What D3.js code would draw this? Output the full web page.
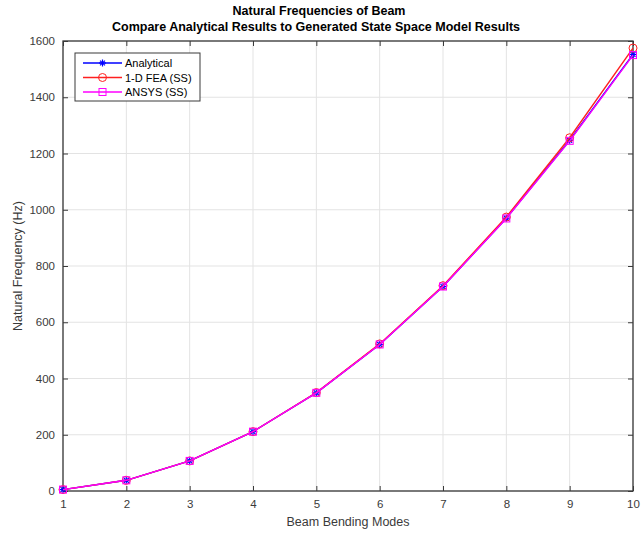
<!DOCTYPE html>
<html lang="en">
<head>
  <meta charset="utf-8">
  <title>Natural Frequencies of Beam</title>
  <script src="https://d3js.org/d3.v7.min.js"></script>
  <style>
    body { margin: 0; background: #fff; }
    text { font-family: "Liberation Sans", Arial, Helvetica, sans-serif; }
  </style>
</head>
<body>
<svg id="chart" width="641" height="533"></svg>
<script>
  // data
  var modes = [1, 2, 3, 4, 5, 6, 7, 8, 9, 10];
  var analytical = [5, 38, 107, 211, 349, 521, 727, 970, 1247, 1552];
  var feaSS = [5, 38, 107, 211, 350, 523, 730, 974, 1256, 1575];
  var ansysSS = [5, 38, 107, 211, 349, 521, 727, 969, 1245, 1550];
  var yTicks = [0, 200, 400, 600, 800, 1000, 1200, 1400, 1600];
  var seriesNames = ["Analytical", "1-D FEA (SS)", "ANSYS (SS)"];

  var svg = d3.select("#chart"),
      pL = 63, pR = 633, pT = 41, pB = 491,
      axisCol = "#3a3a3a";

  var x = d3.scaleLinear().domain([1, 10]).range([pL, pR]),
      y = d3.scaleLinear().domain([0, 1600]).range([pB, pT]);

  // grid
  var grid = svg.append("g");
  grid.selectAll(".gx").data(modes).enter().append("line")
      .attr("x1", d => x(d)).attr("x2", d => x(d))
      .attr("y1", pT).attr("y2", pB)
      .attr("stroke", "#e3e3e3").attr("stroke-width", 1);
  grid.selectAll(".gy").data(yTicks).enter().append("line")
      .attr("x1", pL).attr("x2", pR)
      .attr("y1", d => y(d)).attr("y2", d => y(d))
      .attr("stroke", "#e3e3e3").attr("stroke-width", 1);

  // axes, ticks inward on all four sides
  function styleAxis(g) {
    g.select(".domain").remove();
    g.selectAll("line").attr("stroke", axisCol);
    g.selectAll("text").attr("fill", axisCol).style("font-size", "11.5px");
  }
  svg.append("g").attr("transform", "translate(0," + pB + ")")
     .call(d3.axisBottom(x).tickValues(modes).tickSize(-5).tickPadding(9).tickFormat(d3.format("d")))
     .call(styleAxis);
  svg.append("g").attr("transform", "translate(" + pL + ",0)")
     .call(d3.axisLeft(y).tickValues(yTicks).tickSize(-5).tickPadding(8).tickFormat(d3.format("d")))
     .call(styleAxis);
  svg.append("g").attr("transform", "translate(0," + pT + ")")
     .call(d3.axisTop(x).tickValues(modes).tickSize(-5).tickFormat(""))
     .call(styleAxis);
  svg.append("g").attr("transform", "translate(" + pR + ",0)")
     .call(d3.axisRight(y).tickValues(yTicks).tickSize(-5).tickFormat(""))
     .call(styleAxis);
  svg.append("rect")
     .attr("x", pL).attr("y", pT)
     .attr("width", pR - pL).attr("height", pB - pT)
     .attr("fill", "none").attr("stroke", axisCol).attr("stroke-width", 1.3);

  // series
  var series = [
    {name: seriesNames[0], vals: analytical, color: "#0000ff", marker: "star"},
    {name: seriesNames[1], vals: feaSS, color: "#ff2020", marker: "circle"},
    {name: seriesNames[2], vals: ansysSS, color: "#ff00ff", marker: "square"}
  ];

  var line = d3.line().x((d, i) => x(modes[i])).y(d => y(d));

  function drawMarker(g, kind, color, cx, cy) {
    if (kind === "circle") {
      g.append("circle").attr("cx", cx).attr("cy", cy).attr("r", 4)
       .attr("fill", "none").attr("stroke", color).attr("stroke-width", 1);
    } else if (kind === "square") {
      g.append("rect").attr("x", cx - 3.5).attr("y", cy - 3.5)
       .attr("width", 7).attr("height", 7)
       .attr("fill", "none").attr("stroke", color).attr("stroke-width", 1);
    } else {
      var r = 3.5;
      [[r, 0], [0, r], [r * 0.7, r * 0.7], [r * 0.7, -r * 0.7]].forEach(function (p) {
        g.append("line").attr("x1", cx - p[0]).attr("y1", cy - p[1])
         .attr("x2", cx + p[0]).attr("y2", cy + p[1])
         .attr("stroke", color).attr("stroke-width", 1.2);
      });
    }
  }

  series.forEach(function (s) {
    var g = svg.append("g");
    g.append("path").datum(s.vals).attr("d", line)
     .attr("fill", "none").attr("stroke", s.color).attr("stroke-width", 1.4);
    s.vals.forEach(function (v, i) {
      drawMarker(g, s.marker, s.color, x(modes[i]), y(v));
    });
  });

  // legend
  var lg = svg.append("g");
  lg.append("rect").attr("x", 75).attr("y", 53).attr("width", 125).attr("height", 48)
    .attr("fill", "#fff").attr("stroke", axisCol).attr("stroke-width", 1);
  series.forEach(function (s, i) {
    var ly = 63 + i * 14.5;
    lg.append("line").attr("x1", 83).attr("x2", 122).attr("y1", ly).attr("y2", ly)
      .attr("stroke", s.color).attr("stroke-width", 1.4);
    drawMarker(lg, s.marker, s.color, 102.5, ly);
    lg.append("text").attr("x", 125).attr("y", ly + 4)
      .attr("fill", "#000").style("font-size", "11px").text(s.name);
  });

  // titles and labels
  svg.append("text").attr("x", 319).attr("y", 15).attr("text-anchor", "middle")
     .style("font-size", "12.5px").style("font-weight", "bold").attr("fill", "#000")
     .text("Natural Frequencies of Beam");
  svg.append("text").attr("x", 316).attr("y", 31).attr("text-anchor", "middle")
     .style("font-size", "12.5px").style("font-weight", "bold").attr("fill", "#000")
     .text("Compare Analytical Results to Generated State Space Model Results");
  svg.append("text").attr("x", 348).attr("y", 526).attr("text-anchor", "middle")
     .style("font-size", "12.5px").attr("fill", axisCol)
     .text("Beam Bending Modes");
  svg.append("text").attr("transform", "translate(22,266) rotate(-90)")
     .attr("text-anchor", "middle")
     .style("font-size", "12.5px").attr("fill", axisCol)
     .text("Natural Frequency (Hz)");
</script>
</body>
</html>
